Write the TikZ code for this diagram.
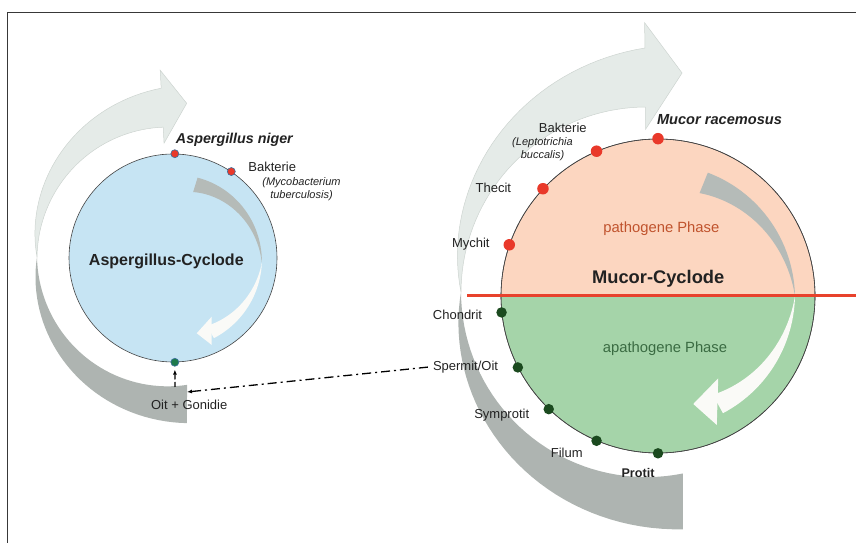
\documentclass[tikz,border=0pt]{standalone}
\usepackage{fontspec}
\setmainfont{Liberation Sans}
\usetikzlibrary{arrows.meta}

\definecolor{cyclblue}{HTML}{C6E4F3}
\definecolor{pathofill}{HTML}{FCD6C0}
\definecolor{apathofill}{HTML}{A5D4A9}
\definecolor{bandlight}{HTML}{E5EBE8}
\definecolor{bandedge}{HTML}{CDD4D0}
\definecolor{banddark}{HTML}{AEB4B1}
\definecolor{flowgray}{HTML}{B5BBB8}
\definecolor{flowwhite}{HTML}{FAFAF7}
\definecolor{dotred}{HTML}{E9392A}
\definecolor{dotgreen}{HTML}{1B4A1F}
\definecolor{dotgreenA}{HTML}{1E7A4C}
\definecolor{dotring}{HTML}{3A6F9E}
\definecolor{phasered}{HTML}{C0532D}
\definecolor{phasegreen}{HTML}{3A6B42}
\definecolor{cutred}{HTML}{E8422C}
\definecolor{circline}{HTML}{444444}
\definecolor{inkgray}{HTML}{222222}

\tikzset{
  framel/.style={draw=inkgray!90, line width=0.9pt},
  cycl/.style={circle, draw=circline, line width=0.6pt, inner sep=0pt},
  reddotA/.style={circle, fill=dotred, draw=dotring, line width=0.6pt, minimum size=8pt, inner sep=0pt},
  greendotA/.style={circle, fill=dotgreenA, draw=dotring, line width=0.6pt, minimum size=8pt, inner sep=0pt},
  reddotB/.style={circle, fill=dotred, minimum size=11.5pt, inner sep=0pt},
  greendotB/.style={circle, fill=dotgreen, minimum size=10.5pt, inner sep=0pt},
  lbl/.style={text=inkgray, inner sep=1pt, font=\fontsize{13}{15}\selectfont},
  lblit/.style={text=inkgray, inner sep=1pt, align=center, font=\fontsize{11}{12.5}\selectfont\itshape},
  lblsp/.style={text=inkgray, inner sep=1pt, font=\fontsize{14.3}{16}\selectfont\bfseries\itshape},
  phase/.style={inner sep=1pt, font=\fontsize{14.8}{16}\selectfont},
  dashdot/.style={line width=1.3pt, dash pattern=on 9pt off 4pt on 2pt off 4pt},
  tipsmall/.style={-{Latex[length=5pt,width=4pt]}},
}

\begin{document}
\begin{tikzpicture}[x=1pt,y=1pt]
\path [use as bounding box] (0,0) rectangle (856,543);
\draw[framel] (7,0) -- (7,531) -- (856,531);

% outer ribbons (light half with head, dark half with flat end)
\begin{scope}[shift={(170,286)}]
  \filldraw[fill=bandlight, draw=bandedge, line width=0.5pt]
    plot[domain=180:93, samples=40, variable=\t] (\t:{133+36*(180-\t)/87})
    -- (93:187) -- (83.8:154.6) -- (93:114)
    -- plot[domain=93:180, samples=40, variable=\t] (\t:{133-3*(180-\t)/87}) -- cycle;
  \fill[banddark]
    plot[domain=180:275.8, samples=40, variable=\t] (\t:{133+34*(\t-180)/95.8})
    -- plot[domain=277.6:180, samples=40, variable=\t] (\t:{133-4*(\t-180)/97.6}) -- cycle;
\end{scope}
\begin{scope}[shift={(647,251)}]
  \filldraw[fill=bandlight, draw=bandedge, line width=0.5pt]
    plot[domain=180:90.5, samples=40, variable=\t] (\t:{186+58*(180-\t)/89.5})
    -- (90.5:269.3) -- (80.9:221.8) -- (90.5:162.7)
    -- plot[domain=90.5:180, samples=40, variable=\t] (\t:{186-1*(180-\t)/89.5}) -- cycle;
  \fill[banddark]
    plot[domain=180:278.6, samples=40, variable=\t] (\t:{186+54*(\t-180)/98.6})
    -- plot[domain=281.2:180, samples=40, variable=\t] (\t:{186-1*(\t-180)/101.2}) -- cycle;
\end{scope}

% the two cycles
\node[cycl, minimum size=208pt, fill=cyclblue] (ac) at (173,285) {};
\node[cycl, minimum size=314pt, path picture={
    \fill[pathofill] (path picture bounding box.north west) rectangle (path picture bounding box.east);
    \fill[apathofill] (path picture bounding box.west) rectangle (path picture bounding box.south east);
  }] (mc) at (658,247) {};
\draw[circline, line width=0.6pt] (mc) circle (157);

% inner flow arrows
\begin{scope}[shift={(ac.center)}]
  \fill[flowgray]
    plot[domain=73:-3, samples=30, variable=\t] (\t:{84+5*(73-\t)/76})
    -- plot[domain=-3:73, samples=30, variable=\t] (\t:{69+20*(73-\t)/76}) -- cycle;
  \fill[flowwhite]
    plot[domain=-3:-63, samples=30, variable=\t] (\t:{89+1*(-3-\t)/60})
    -- plot[domain=-63:-3, samples=30, variable=\t] (\t:{89-13*(-3-\t)/60}) -- cycle;
  \fill[flowwhite] (-56.6:70.3) -- (-72.5:78.9) -- (-66:95.2) -- cycle;
\end{scope}
\begin{scope}[shift={(mc.center)}]
  \fill[flowgray]
    plot[domain=68:0, samples=30, variable=\t] (\t:{133+4*(68-\t)/68})
    -- plot[domain=0:68, samples=30, variable=\t] (\t:{111+26*(68-\t)/68}) -- cycle;
  \fill[flowwhite]
    plot[domain=0:-61, samples=30, variable=\t] (\t:{137-3*(-\t)/61})
    -- plot[domain=-61:0, samples=30, variable=\t] (\t:{137-24*(-\t)/61}) -- cycle;
  \fill[flowwhite] (-53.8:102) -- (-71.9:113.6) -- (-65.5:141.7) -- cycle;
\end{scope}

\draw[cutred, line width=3pt] (467,247) -- (856,247);

% stages on the cycles
\node[reddotA] (aniger) at (ac.89) {};
\node[reddotA] (abakt) at (ac.56) {};
\node[greendotA] (agon) at (ac.271) {};

\node[reddotB] (mrace) at (mc.90) {};
\node[reddotB] (mbakt) at (mc.113.6) {};
\node[reddotB] (mthec) at (mc.137.5) {};
\node[reddotB] (mmych) at (mc.161.9) {};
\node[greendotB] (mchon) at (mc.186.7) {};
\node[greendotB] (msperm) at (mc.207.1) {};
\node[greendotB] (msymp) at (mc.226.6) {};
\node[greendotB] (mfil) at (mc.247.4) {};
\node[greendotB] (mprot) at (mc.270) {};

% texts
\node[text=inkgray, font=\fontsize{16}{18}\selectfont\bfseries] (acyc) at (166.3,282) {Aspergillus-Cyclode};
\node[lblsp] (tniger) at (234.4,403) {Aspergillus niger};
\node[lbl] (tbaktA) at (272.2,376.3) {Bakterie};
\node[lblit] (tmyco) at (301.5,354) {(Mycobacterium\\tuberculosis)};
\node[lbl] (toit) at (189.2,138) {Oit + Gonidie};

\node[text=inkgray, font=\fontsize{18.3}{20}\selectfont\bfseries] (mcyc) at (658.2,264) {Mucor-Cyclode};
\node[phase, text=phasered] (tpath) at (661.3,314) {pathogene Phase};
\node[phase, text=phasegreen] (tapath) at (665,194.7) {apathogene Phase};
\node[lblsp, font=\fontsize{14.6}{16}\selectfont\bfseries\itshape] (trace) at (719.5,423) {Mucor racemosus};
\node[lbl] (tbaktM) at (562.8,415.3) {Bakterie};
\node[lblit] (tlepto) at (542.5,393.7) {(Leptotrichia\\buccalis)};
\node[lbl] (tthec) at (493.3,355.3) {Thecit};
\node[lbl] (tmych) at (470.8,299) {Mychit};
\node[lbl] (tchon) at (457.5,228) {Chondrit};
\node[lbl] (tsperm) at (465.5,176.3) {Spermit/Oit};
\node[lbl] (tsymp) at (501.7,128) {Symprotit};
\node[lbl] (tfil) at (566.7,89.7) {Filum};
\node[lbl, font=\fontsize{12.6}{15}\selectfont\bfseries] (tprot) at (638,69.7) {Protit};

% connectors
\coordinate (gtip) at (187,151);
\coordinate (gfoot) at (175,156);
\draw[dashdot, tipsmall, shorten <=4pt] (tsperm.west) -- (gtip);
\draw[line width=1.2pt, dash pattern=on 5pt off 2.5pt, tipsmall, shorten >=3pt] (gfoot) -- (agon);
\end{tikzpicture}
\end{document}
